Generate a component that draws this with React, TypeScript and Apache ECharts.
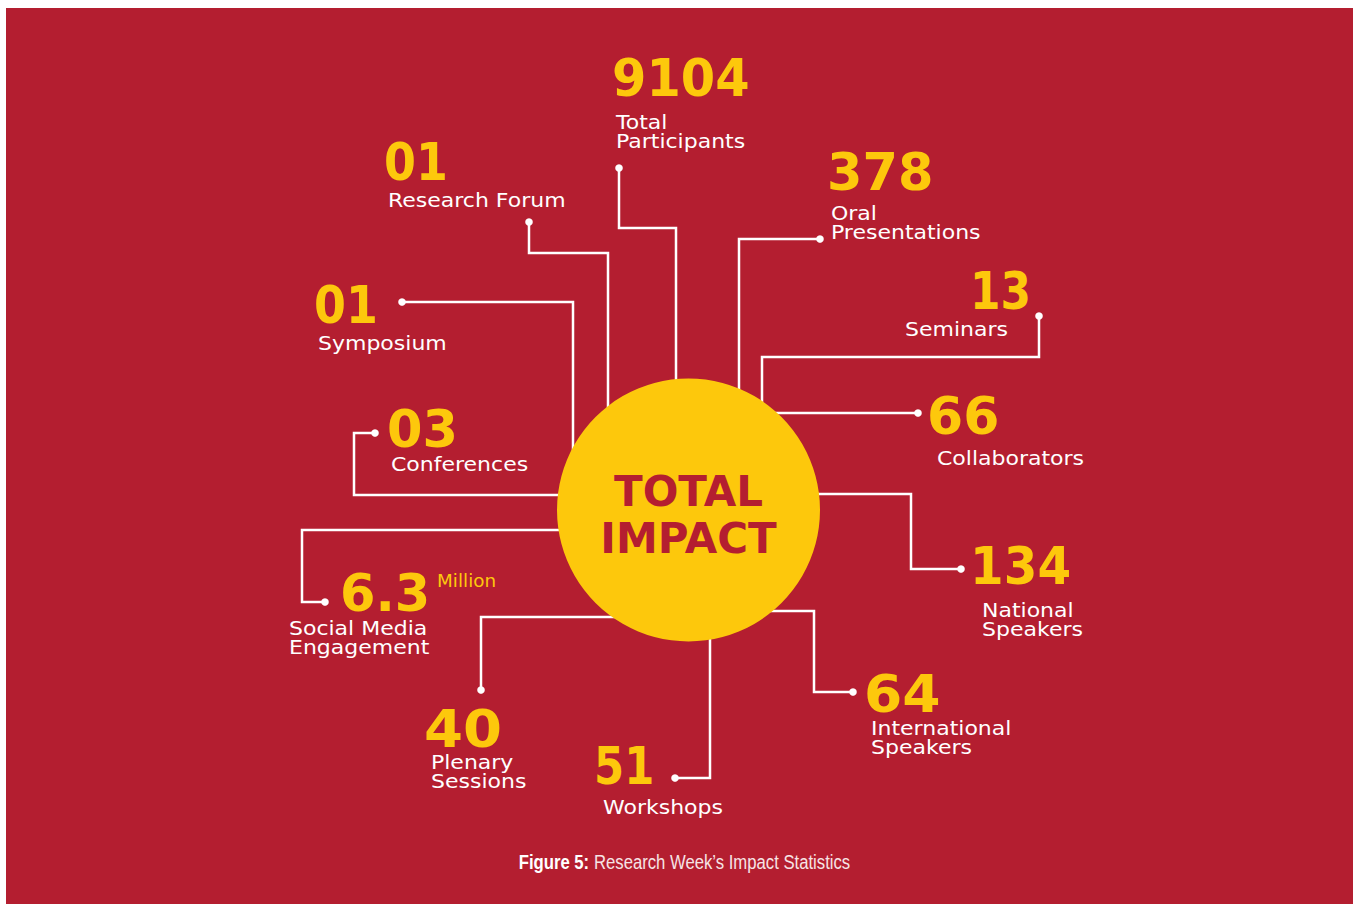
import React, { useEffect, useRef } from "react";
import * as echarts from "echarts";

// ---- data ----
const statValues = ["9104", "01", "01", "03", "6.3", "40", "51", "64", "134", "66", "13", "378"];
const statUnits = ["", "", "", "", "Million", "", "", "", "", "", "", ""];
const statLabels = [
  ["Total", "Participants"],
  ["Research Forum"],
  ["Symposium"],
  ["Conferences"],
  ["Social Media", "Engagement"],
  ["Plenary", "Sessions"],
  ["Workshops"],
  ["International", "Speakers"],
  ["National", "Speakers"],
  ["Collaborators"],
  ["Seminars"],
  ["Oral", "Presentations"],
];
const centerTitle = ["TOTAL", "IMPACT"];
const captionBold = "Figure 5:";
const captionText = "Research Week\u2019s Impact Statistics";

// ---- layout (positions only) ----
const numPos = [
  [612, 78.5], [384, 162.5], [314, 305], [387, 429], [340, 593], [424, 729],
  [594, 766], [864, 695], [970, 567], [927, 416.5], [970, 291.5], [827, 172.5],
];
const numScale = [0.97, 0.9, 0.9, 1, 1, 1.1, 0.85, 1.08, 0.95, 1.02, 0.86, 1];
const labelPos = [
  [616, 121.5], [388, 199.5], [318, 342.5], [391, 464], [289, 628], [431, 761.5],
  [603, 807], [871, 728], [982, 610], [937, 458], [1008, 328.5], [831, 212.5],
];
const labelAlign = ["left", "left", "left", "left", "left", "left", "left", "left", "left", "left", "right", "left"];
const unitPos = [null, null, null, null, [437, 581.5], null, null, null, null, null, null, null];
const connectors = [
  [[619, 168], [619, 228], [676, 228], [676, 450]],
  [[529, 222], [529, 253], [608, 253], [608, 450]],
  [[402, 302], [573, 302], [573, 470]],
  [[375, 433], [354, 433], [354, 495], [600, 495]],
  [[325, 602], [302, 602], [302, 530], [600, 530]],
  [[481, 690], [481, 617], [640, 617]],
  [[675, 778], [710, 778], [710, 600]],
  [[853, 692], [814, 692], [814, 611], [740, 611]],
  [[961, 569], [911, 569], [911, 494], [780, 494]],
  [[918, 413], [740, 413]],
  [[1039, 316], [1039, 357], [762, 357], [762, 450]],
  [[820, 239], [739, 239], [739, 450]],
];

const RED = "#B41E30";
const YELLOW = "#FDC80C";
const WHITE = "#FFFFFF";
const FONT = "'DejaVu Sans', sans-serif";
const LINE_H = 19;

export default function App() {
  const ref = useRef<HTMLDivElement>(null);
  useEffect(() => {
    if (!ref.current) return;
    const chart = echarts.init(ref.current, null, { renderer: "svg" });
    const elements: any[] = [];
    elements.push({
      type: "rect",
      shape: { x: 6, y: 8, width: 1353 - 6, height: 904 - 8 },
      style: { fill: RED },
      z: 0,
    });
    connectors.forEach((pts) => {
      elements.push({
        type: "polyline",
        shape: { points: pts },
        style: { stroke: WHITE, lineWidth: 2.5, fill: "none" },
        z: 1,
      });
      elements.push({
        type: "circle",
        shape: { cx: pts[0][0], cy: pts[0][1], r: 3.8 },
        style: { fill: WHITE },
        z: 1,
      });
    });
    elements.push({
      type: "circle",
      shape: { cx: 688.5, cy: 510, r: 131.5 },
      style: { fill: YELLOW },
      z: 2,
    });
    centerTitle.forEach((t, i) => {
      elements.push({
        type: "text",
        x: 688.5,
        y: i === 0 ? 491.5 : 538,
        style: {
          text: t,
          fill: RED,
          fontFamily: FONT,
          fontWeight: "bold",
          fontSize: 42,
          align: "center",
          verticalAlign: "middle",
        },
        z: 3,
      });
    });
    statValues.forEach((v, i) => {
      elements.push({
        type: "text",
        x: numPos[i][0],
        y: numPos[i][1],
        scaleX: numScale[i],
        style: {
          text: v,
          fill: YELLOW,
          fontFamily: FONT,
          fontWeight: "bold",
          fontSize: 51,
          align: "left",
          verticalAlign: "middle",
        },
        z: 3,
      });
      if (statUnits[i] && unitPos[i]) {
        const up = unitPos[i] as number[];
        elements.push({
          type: "text",
          x: up[0],
          y: up[1],
          scaleX: 1.08,
          style: {
            text: statUnits[i],
            fill: YELLOW,
            fontFamily: FONT,
            fontSize: 17,
            align: "left",
            verticalAlign: "middle",
          },
          z: 3,
        });
      }
      statLabels[i].forEach((line, j) => {
        elements.push({
          type: "text",
          x: labelPos[i][0],
          y: labelPos[i][1] + j * LINE_H,
          scaleX: 1.1,
          style: {
            text: line,
            fill: WHITE,
            fontFamily: FONT,
            fontSize: 20,
            align: labelAlign[i],
            verticalAlign: "middle",
          },
          z: 3,
        });
      });
    });
    elements.push({
      type: "text",
      x: 684.5,
      y: 862,
      scaleX: 0.835,
      style: {
        text: "{b|" + captionBold + "\u00A0}{r|" + captionText + "}",
        align: "center",
        verticalAlign: "middle",
        rich: {
          b: { fontFamily: "'Liberation Sans', sans-serif", fontWeight: "bold", fontSize: 20, fill: WHITE },
          r: { fontFamily: "'Liberation Sans', sans-serif", fontSize: 20, fill: "#F6E3E5" },
        },
      },
      z: 3,
    });
    chart.setOption({
      animation: false,
      graphic: { elements },
    });
    return () => chart.dispose();
  }, []);
  return (
    <div
      ref={ref}
      style={{ position: "fixed", left: 0, top: 0, width: 1353, height: 904, background: "#fff" }}
    />
  );
}
